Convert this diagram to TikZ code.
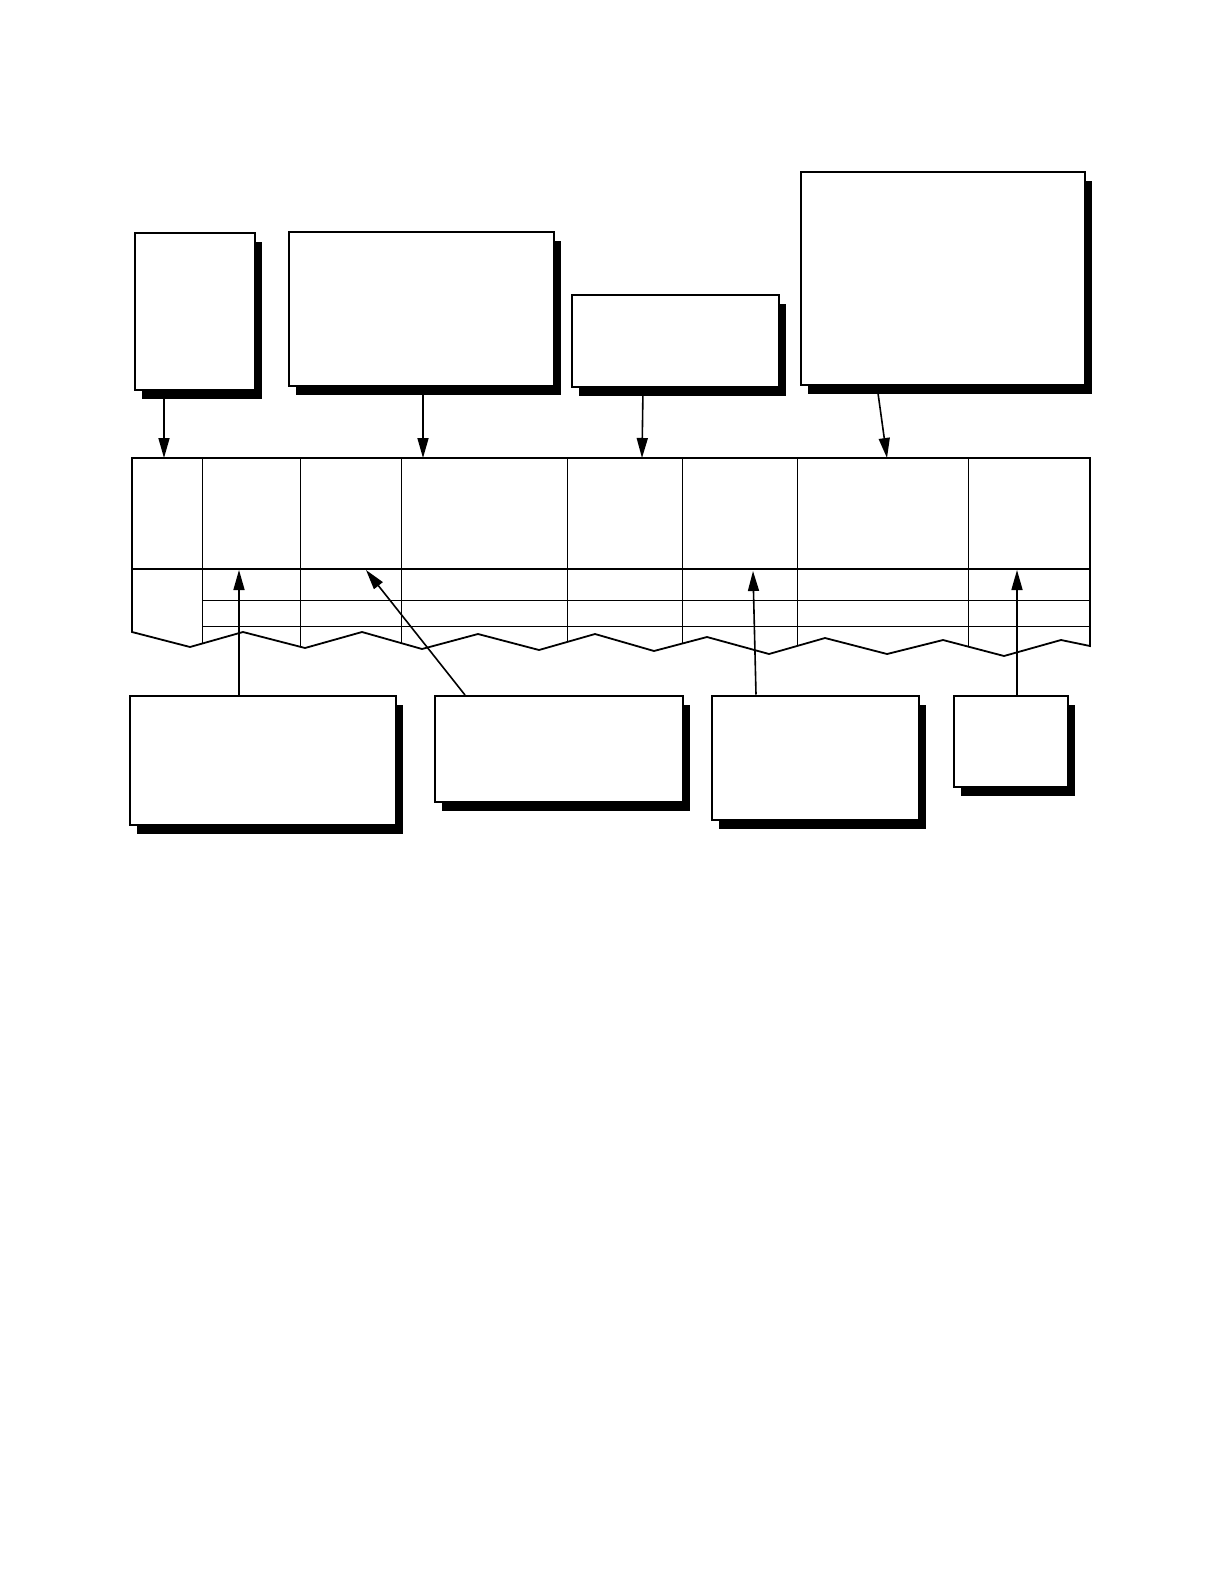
\documentclass[tikz,border=0pt]{standalone}
\usepackage{tikz}
\usetikzlibrary{shadows,arrows.meta}

\begin{document}
\begin{tikzpicture}[x=0.5pt, y=-0.5pt,
    bx/.style = {draw, fill=white, line width=1pt, inner sep=0pt,
      drop shadow={shadow xshift=3.5pt, shadow yshift=-4.5pt, fill=black, opacity=1}},
    arr/.style = {-{Triangle[length=10pt, width=5.5pt]}, line width=0.8pt},
    thin line/.style = {line width=0.5pt}]
  \useasboundingbox (0,0) rectangle (1224,1584);
          % boxes above the table
          \node [bx, minimum width=60pt, minimum height=78.5pt] (T1) at (195, 311.5) {};
          \node [bx, minimum width=132.5pt, minimum height=77pt] (T2) at (421.5, 309) {};
          \node [bx, minimum width=103.5pt, minimum height=46pt] (T3) at (675.5, 341) {};
          \node [bx, minimum width=142pt, minimum height=106.5pt] (T4) at (943, 278.5) {};
          % boxes below the table
          \node [bx, minimum width=133pt, minimum height=64.5pt] (B1) at (263, 760.5) {};
          \node [bx, minimum width=124pt, minimum height=53pt] (B2) at (559, 749) {};
          \node [bx, minimum width=103.5pt, minimum height=62pt] (B3) at (815.5, 757.5) {};
          \node [bx, minimum width=57pt, minimum height=45.5pt] (B4) at (1011, 741.5) {};
          % table, torn at the bottom
          \coordinate (tl) at (132, 458);
          \coordinate (tr) at (1090, 458);
          \begin{scope}
            \clip (tl) -- (132,632) -- (190,647) -- (243,632) -- (305,648) -- (362,632)
              -- (422,649) -- (478,634) -- (539,650) -- (595,634) -- (654,651) -- (707,637)
              -- (769,654) -- (825,638) -- (887,654) -- (943,640) -- (1004,656) -- (1061,640)
              -- (1090,646) -- (tr) -- cycle;
            \foreach \cx in {202, 300, 401, 567, 682, 797, 968}
              \draw [thin line] (\cx, 458) -- (\cx, 670);
            \draw [thin line] (202, 600) -- (1090, 600);
            \draw [thin line] (202, 626) -- (1090, 626);
          \end{scope}
          \draw [line width=0.9pt] (132, 569) -- (1090, 569);
          \draw [line width=0.9pt] (tl) -- (132,632) -- (190,647) -- (243,632) -- (305,648) -- (362,632)
              -- (422,649) -- (478,634) -- (539,650) -- (595,634) -- (654,651) -- (707,637)
              -- (769,654) -- (825,638) -- (887,654) -- (943,640) -- (1004,656) -- (1061,640)
              -- (1090,646) -- (tr) -- cycle;
          % arrow targets
          \coordinate (c1) at (164, 458);
          \coordinate (c2) at (423, 458);
          \coordinate (c3) at (642, 458);
          \coordinate (c4) at (887, 458);
          \coordinate (c5) at (239, 570);
          \coordinate (c6) at (366, 570);
          \coordinate (c7) at (753, 571);
          \coordinate (c8) at (1017, 570);
          \draw [arr] (T1.south -| c1) -- (c1);
          \draw [arr] (T2.south -| c2) -- (c2);
          \draw [arr] (T3.south -| 643,0) -- (c3);
          \draw [arr] (T4.south -| 877,0) -- (c4);
          \draw [arr] (B1.north -| c5) -- (c5);
          \draw [arr] (B2.north -| 465,0) -- (c6);
          \draw [arr] (B3.north -| 756,0) -- (c7);
          \draw [arr] (B4.north -| c8) -- (c8);
\end{tikzpicture}
\end{document}
